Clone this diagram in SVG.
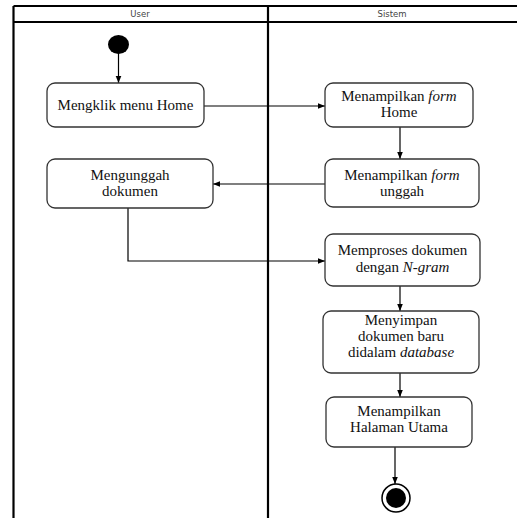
<svg xmlns="http://www.w3.org/2000/svg" width="517" height="518" viewBox="0 0 517 518">
<style>
.frame{fill:none;stroke:#000;stroke-width:2.2}
.hdr{font-family:"DejaVu Sans","Liberation Sans",sans-serif;font-size:8.5px;fill:#444;text-anchor:middle}
.box{fill:#fff;stroke:#333;stroke-width:1.3}
.t{font-family:"Liberation Serif","Times New Roman","DejaVu Serif",serif;font-size:15px;fill:#111;text-anchor:middle}
.edge{fill:none;stroke:#000;stroke-width:1.2}
</style>
<defs>
<marker id="arr" viewBox="0 0 10 10" refX="10" refY="5" markerWidth="7" markerHeight="7" orient="auto" markerUnits="userSpaceOnUse">
<path d="M0,1 L10,5 L0,9 z" fill="#000"/>
</marker>
</defs>
<rect width="517" height="518" fill="#fff"/>
<g id="swimlanes">
<line class="frame" x1="13.5" y1="6" x2="13.5" y2="518"/>
<line class="frame" x1="268" y1="6" x2="268" y2="518"/>
<line class="frame" x1="13.5" y1="6" x2="517" y2="6"/>
<line class="frame" x1="13.5" y1="22" x2="517" y2="22" stroke-width="1.8"/>
<text class="hdr" x="140" y="17">User</text>
<text class="hdr" x="392" y="17">Sistem</text>
</g>
<g id="connectors">
<line class="edge" x1="118.5" y1="53" x2="118.5" y2="83" marker-end="url(#arr)"/>
<line class="edge" x1="204" y1="106" x2="325" y2="106" marker-end="url(#arr)"/>
<line class="edge" x1="400" y1="127" x2="400" y2="159" marker-end="url(#arr)"/>
<line class="edge" x1="325" y1="184" x2="213" y2="184" marker-end="url(#arr)"/>
<polyline class="edge" points="128,208 128,261 325,261" marker-end="url(#arr)"/>
<line class="edge" x1="400" y1="286" x2="400" y2="311" marker-end="url(#arr)"/>
<line class="edge" x1="400" y1="373" x2="400" y2="397" marker-end="url(#arr)"/>
<line class="edge" x1="395" y1="447" x2="395" y2="484" marker-end="url(#arr)"/>
</g>
<g id="start">
<ellipse cx="118.5" cy="44.5" rx="10.5" ry="9.5" fill="#000"/>
</g>
<g id="n1">
<rect class="box" x="47" y="83" width="157" height="44" rx="8"/>
<text class="t" x="125.5" y="110">Mengklik menu Home</text>
</g>
<g id="n2">
<rect class="box" x="47" y="159" width="166" height="49" rx="8"/>
<text class="t" x="130" y="180">Mengunggah</text>
<text class="t" x="130" y="196">dokumen</text>
</g>
<g id="n3">
<rect class="box" x="325" y="83" width="148" height="44" rx="8"/>
<text class="t" x="399" y="101">Menampilkan <tspan font-style="italic">form</tspan></text>
<text class="t" x="399" y="117">Home</text>
</g>
<g id="n4">
<rect class="box" x="325" y="159" width="154" height="48" rx="8"/>
<text class="t" x="402" y="180">Menampilkan <tspan font-style="italic">form</tspan></text>
<text class="t" x="402" y="196">unggah</text>
</g>
<g id="n5">
<rect class="box" x="325" y="234" width="155" height="52" rx="8"/>
<text class="t" x="402.5" y="255">Memproses dokumen</text>
<text class="t" x="402.5" y="272">dengan <tspan font-style="italic">N-gram</tspan></text>
</g>
<g id="n6">
<rect class="box" x="323" y="311" width="156" height="62" rx="8"/>
<text class="t" x="401" y="325">Menyimpan</text>
<text class="t" x="401" y="341">dokumen baru</text>
<text class="t" x="401" y="357">didalam <tspan font-style="italic">database</tspan></text>
</g>
<g id="n7">
<rect class="box" x="326" y="397" width="146" height="50" rx="8"/>
<text class="t" x="399" y="416">Menampilkan</text>
<text class="t" x="399" y="432">Halaman Utama</text>
</g>
<g id="end">
<circle cx="396" cy="498" r="14" fill="#fff" stroke="#000" stroke-width="1.5"/>
<circle cx="396" cy="498" r="10" fill="#000"/>
</g>
</svg>
